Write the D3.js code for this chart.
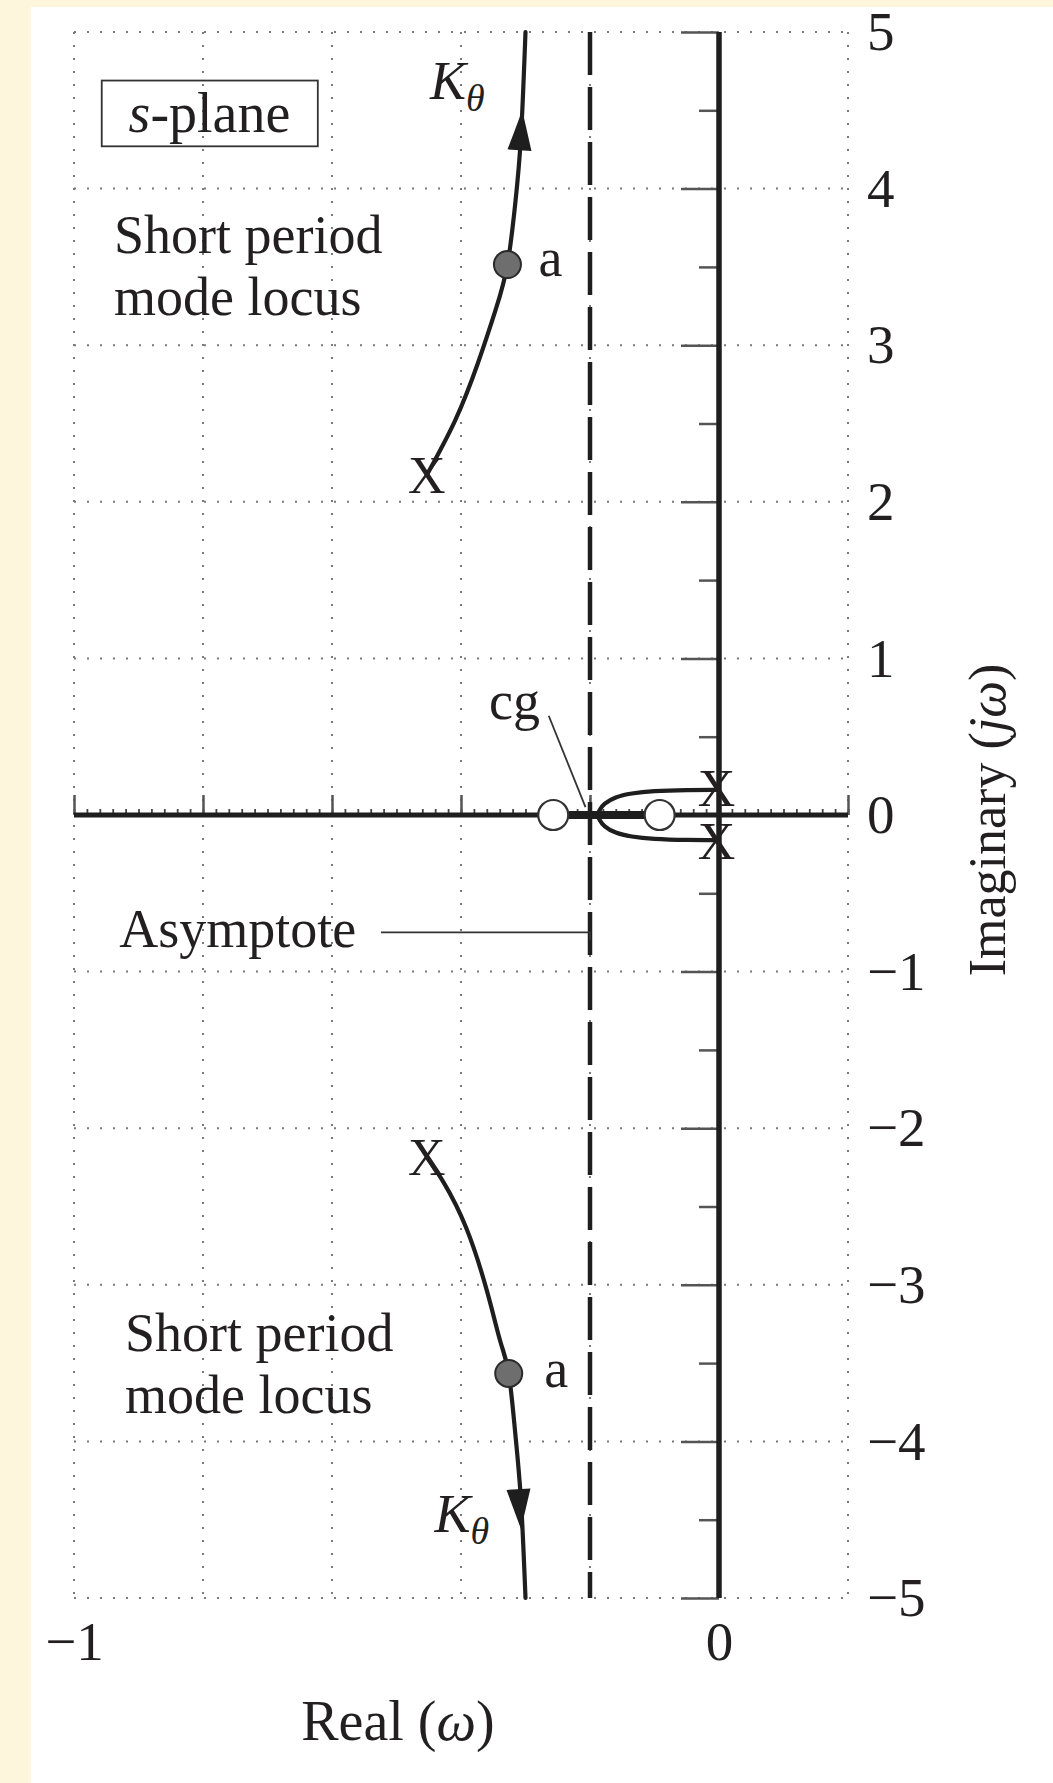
<!DOCTYPE html>
<html>
<head>
<meta charset="utf-8">
<script src="https://cdn.jsdelivr.net/npm/d3@7"></script>
<style>
html, body { margin: 0; padding: 0; background: #fdf6dd; }
svg { display: block; }
text { font-family: "Liberation Serif", "Times New Roman", serif; fill: #231f20; }
</style>
</head>
<body>
<div id="chart"></div>
<script>
// values (real, imaginary parts of s)
var spUpperRe = [-0.453, -0.409, -0.374, -0.346, -0.328, -0.316, -0.307, -0.300];
var spUpperIm = [2.171, 2.52, 2.883, 3.23, 3.515, 3.90, 4.335, 5.0];
var spLowerRe = [-0.453, -0.427, -0.392, -0.360, -0.339, -0.326, -0.316, -0.307, -0.300];
var spLowerIm = [-2.186, -2.346, -2.636, -3.036, -3.362, -3.566, -3.943, -4.379, -5.0];
var phUpperRe = [-0.003, -0.05, -0.10, -0.135, -0.16, -0.177, -0.185, -0.188];
var phUpperIm = [0.16, 0.159, 0.152, 0.137, 0.112, 0.072, 0.032, 0];
var phLowerRe = [-0.003, -0.05, -0.10, -0.135, -0.16, -0.177, -0.185, -0.188];
var phLowerIm = [-0.16, -0.159, -0.152, -0.137, -0.112, -0.072, -0.032, 0];
var poleRe = [-0.453, -0.453, -0.004, -0.004];
var poleIm = [2.17, -2.186, 0.17, -0.17];
var zeroRe = [-0.257, -0.092];
var gainRe = [-0.328, -0.326];
var gainIm = [3.515, -3.566];
var asymptoteRe = -0.2;
var gridRe = [-1, -0.8, -0.6, -0.4, -0.2, 0, 0.2];
var gridIm = [-5, -4, -3, -2, -1, 0, 1, 2, 3, 4, 5];
var imagMinor = [-4.5, -3.5, -2.5, -1.5, -0.5, 0.5, 1.5, 2.5, 3.5, 4.5];
var realLabels = [-1, 0];

var W = 1053, H = 1783;
var svg = d3.select("#chart").append("svg")
	.attr("width", W)
	.attr("height", H);

svg.append("rect")
	.attr("x", 31).attr("y", 7)
	.attr("width", W - 31).attr("height", H - 7)
	.attr("fill", "#fff");

var x = d3.scaleLinear().domain([-1, 0.2]).range([74, 848]);
var y = d3.scaleLinear().domain([-5, 5]).range([1598, 32]);

var g = svg.append("g");

// dotted grid
g.selectAll(".vgrid").data(gridRe).enter().append("line")
	.attr("x1", function(d) { return x(d); })
	.attr("x2", function(d) { return x(d); })
	.attr("y1", y(5)).attr("y2", y(-5))
	.attr("stroke", "#7a7a7a").attr("stroke-width", 2)
	.attr("stroke-dasharray", "2,11");
g.selectAll(".hgrid").data(gridIm).enter().append("line")
	.attr("x1", x(-1)).attr("x2", x(0.2))
	.attr("y1", function(d) { return y(d); })
	.attr("y2", function(d) { return y(d); })
	.attr("stroke", "#7a7a7a").attr("stroke-width", 2)
	.attr("stroke-dasharray", "2,11");

// tick marks on the real axis (pointing up)
function styleTicks(sel, col, w) {
	sel.select(".domain").remove();
	sel.selectAll(".tick line").attr("stroke", col).attr("stroke-width", w);
}
g.append("g")
	.attr("transform", "translate(0," + y(0) + ")")
	.call(d3.axisTop(x).ticks(60).tickSize(6).tickFormat(""))
	.call(styleTicks, "#444", 1.8);
g.append("g")
	.attr("transform", "translate(0," + y(0) + ")")
	.call(d3.axisTop(x).ticks(6).tickSize(20).tickFormat(""))
	.call(styleTicks, "#555", 2.5);

// tick marks on the imaginary axis (pointing left)
g.append("g")
	.attr("transform", "translate(" + x(0) + ",0)")
	.call(d3.axisLeft(y).tickValues(gridIm).tickSize(38).tickFormat(""))
	.call(styleTicks, "#555", 2.5);
g.append("g")
	.attr("transform", "translate(" + x(0) + ",0)")
	.call(d3.axisLeft(y).tickValues(imagMinor).tickSize(20).tickFormat(""))
	.call(styleTicks, "#555", 2.5);

// axes
g.append("line")
	.attr("x1", x(-1)).attr("x2", x(0.2))
	.attr("y1", y(0)).attr("y2", y(0))
	.attr("stroke", "#1e1e1e").attr("stroke-width", 5);
g.append("line")
	.attr("x1", x(0)).attr("x2", x(0))
	.attr("y1", y(5)).attr("y2", y(-5))
	.attr("stroke", "#1e1e1e").attr("stroke-width", 5.5);

// asymptote
g.append("line")
	.attr("x1", x(asymptoteRe)).attr("x2", x(asymptoteRe))
	.attr("y1", y(5)).attr("y2", y(-5))
	.attr("stroke", "#1e1e1e").attr("stroke-width", 4.5)
	.attr("stroke-dasharray", "43,12");

// real-axis locus between the zeros
g.append("line")
	.attr("x1", x(zeroRe[0])).attr("x2", x(zeroRe[1]))
	.attr("y1", y(0)).attr("y2", y(0))
	.attr("stroke", "#1e1e1e").attr("stroke-width", 8);

// locus branches
var line = d3.line()
	.x(function(d) { return x(d[0]); })
	.y(function(d) { return y(d[1]); })
	.curve(d3.curveNatural);
var branches = [
	d3.zip(spUpperRe, spUpperIm),
	d3.zip(spLowerRe, spLowerIm),
	d3.zip(phUpperRe, phUpperIm),
	d3.zip(phLowerRe, phLowerIm)
];
g.selectAll(".branch").data(branches).enter().append("path")
	.attr("d", line)
	.attr("fill", "none")
	.attr("stroke", "#1e1e1e")
	.attr("stroke-width", 4.2)
	.attr("stroke-linecap", "round");

// arrowheads along the short period branches (direction of increasing gain)
function arrow(re0, im0, re1, im1) {
	var x0 = x(re0), y0 = y(im0), x1 = x(re1), y1 = y(im1);
	var dx = x1 - x0, dy = y1 - y0, len = Math.sqrt(dx * dx + dy * dy);
	var ux = dx / len, uy = dy / len, hw = 12, hl = 40;
	var bx = x1 - ux * hl, by = y1 - uy * hl;
	return "M" + x1 + "," + y1 +
		"L" + (bx - uy * hw) + "," + (by + ux * hw) +
		"L" + (bx + uy * hw) + "," + (by - ux * hw) + "Z";
}
g.append("path").attr("d", arrow(-0.309, 4.263, -0.305, 4.50)).attr("fill", "#1e1e1e");
g.append("path").attr("d", arrow(-0.312, -4.23, -0.307, -4.56)).attr("fill", "#1e1e1e");

// zeros
g.selectAll(".zero").data(zeroRe).enter().append("circle")
	.attr("cx", function(d) { return x(d); })
	.attr("cy", y(0))
	.attr("r", 15)
	.attr("fill", "#fff").attr("stroke", "#333").attr("stroke-width", 2.2);

// gain points "a"
g.selectAll(".gain").data(d3.zip(gainRe, gainIm)).enter().append("circle")
	.attr("cx", function(d) { return x(d[0]); })
	.attr("cy", function(d) { return y(d[1]); })
	.attr("r", 13.5)
	.attr("fill", "#6e6e6e").attr("stroke", "#2a2a2a").attr("stroke-width", 2);

// poles
g.selectAll(".pole").data(d3.zip(poleRe, poleIm)).enter().append("text")
	.attr("x", function(d) { return x(d[0]); })
	.attr("y", function(d) { return y(d[1]); })
	.attr("text-anchor", "middle")
	.attr("dominant-baseline", "central")
	.attr("font-size", 52)
	.text("X");

// leader lines
g.append("line")
	.attr("x1", x(-0.264)).attr("y1", y(0.634))
	.attr("x2", x(-0.207)).attr("y2", y(0.05))
	.attr("stroke", "#333").attr("stroke-width", 1.8);
g.append("path")
	.attr("d", "M" + x(-0.524) + "," + y(-0.75) + "H" + x(asymptoteRe) + "V" + y(-0.8))
	.attr("fill", "none").attr("stroke", "#333").attr("stroke-width", 1.8);

// labels
var FS = 54;
function label(re, im, str, anchor) {
	return g.append("text")
		.attr("x", x(re)).attr("y", y(im))
		.attr("font-size", FS)
		.attr("text-anchor", anchor || "start")
		.text(str);
}
label(-0.938, 3.59, "Short period");
label(-0.938, 3.19, "mode locus");
label(-0.921, -3.42, "Short period");
label(-0.921, -3.82, "mode locus");
label(-0.930, -0.84, "Asymptote");
label(-0.317, 0.61, "cg", "middle");
label(-0.280, 3.44, "a");
label(-0.271, -3.65, "a");

function kTheta(re, im) {
	var t = g.append("text")
		.attr("x", x(re)).attr("y", y(im))
		.attr("font-size", FS).attr("font-style", "italic");
	t.append("tspan").text("K");
	t.append("tspan").attr("font-size", 38).attr("dy", 12).text("θ");
}
kTheta(-0.448, 4.57);
kTheta(-0.441, -4.58);

// s-plane box
var sp = g.append("text")
	.attr("x", x(-0.79)).attr("y", y(4.36))
	.attr("font-size", 56)
	.attr("text-anchor", "middle");
sp.append("tspan").attr("font-style", "italic").text("s");
sp.append("tspan").text("-plane");
g.append("rect")
	.attr("x", x(-0.957)).attr("y", y(4.69))
	.attr("width", x(-0.622) - x(-0.957))
	.attr("height", y(4.27) - y(4.69))
	.attr("fill", "none").attr("stroke", "#333").attr("stroke-width", 1.8);

// tick labels
var yLab = g.append("g")
	.attr("transform", "translate(" + x(0.2) + ",0)")
	.call(d3.axisRight(y).tickValues(gridIm).tickSize(0).tickPadding(19).tickFormat(d3.format("d")));
yLab.select(".domain").remove();
yLab.attr("font-family", null).attr("font-size", null);
yLab.selectAll("text").attr("font-size", 55).attr("fill", "#231f20");

var xLab = g.append("g")
	.attr("transform", "translate(0," + y(-5) + ")")
	.call(d3.axisBottom(x).tickValues(realLabels).tickSize(0).tickPadding(23).tickFormat(d3.format("d")));
xLab.select(".domain").remove();
xLab.attr("font-family", null).attr("font-size", null);
xLab.selectAll("text").attr("font-size", 55).attr("fill", "#231f20");

// axis titles
var rl = g.append("text")
	.attr("x", 398).attr("y", 1740)
	.attr("font-size", 56)
	.attr("text-anchor", "middle");
rl.append("tspan").text("Real (");
rl.append("tspan").attr("font-style", "italic").text("ω");
rl.append("tspan").text(")");

var il = g.append("text")
	.attr("transform", "translate(987,820) rotate(-90)")
	.attr("font-size", 52)
	.attr("text-anchor", "middle")
	.attr("dominant-baseline", "central");
il.append("tspan").text("Imaginary (");
il.append("tspan").attr("font-style", "italic").text("jω");
il.append("tspan").text(")");
</script>
</body>
</html>
